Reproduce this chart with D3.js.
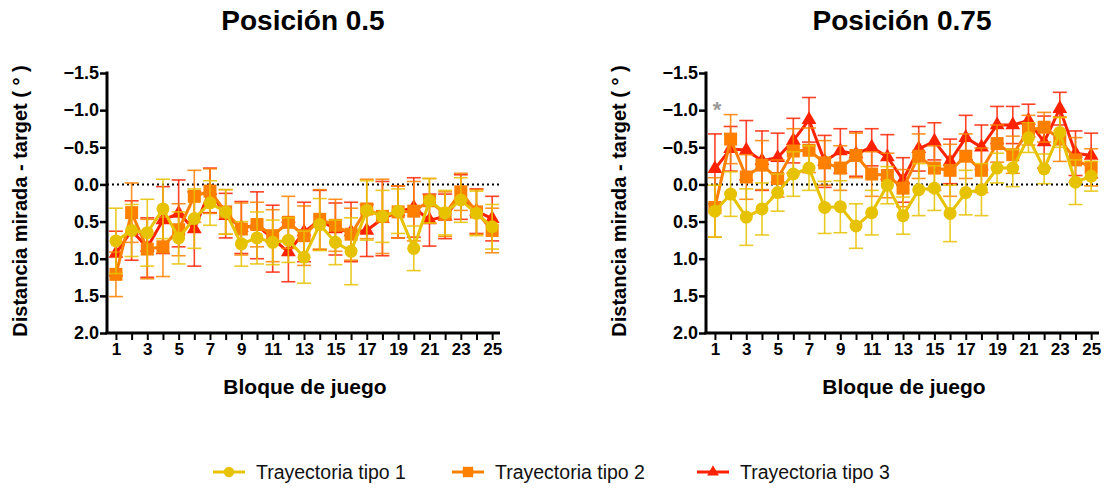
<!DOCTYPE html>
<html>
<head>
<meta charset="utf-8">
<script src="https://cdn.jsdelivr.net/npm/d3@7"></script>
<style>
body { margin: 0; background: #fff; }
text { font-family: "Liberation Sans", Arial, sans-serif; }
</style>
</head>
<body>
<svg width="1105" height="489"></svg>
<script>
// bloques de juego
var bloques = [1,2,3,4,5,6,7,8,9,10,11,12,13,14,15,16,17,18,19,20,21,22,23,24,25];
var xTickLabels = [1,3,5,7,9,11,13,15,17,19,21,23,25];
var yTicks = [-1.5,-1.0,-0.5,0.0,0.5,1.0,1.5,2.0];
var seriesNames = ["Trayectoria tipo 1", "Trayectoria tipo 2", "Trayectoria tipo 3"];
var seriesColors = ["#e6c200", "#ff8000", "#ff2200"];
var seriesShapes = ["circle", "square", "triangle"];

// Posicion 0.5
var p05_t1 = [0.76,0.62,0.65,0.33,0.72,0.46,0.25,0.37,0.80,0.72,0.78,0.75,0.98,0.54,0.78,0.90,0.35,0.43,0.36,0.86,0.22,0.38,0.21,0.39,0.57];
var p05_t1_err = [0.44,0.35,0.45,0.40,0.35,0.40,0.30,0.30,0.30,0.35,0.30,0.30,0.35,0.35,0.30,0.45,0.40,0.35,0.30,0.30,0.30,0.30,0.30,0.30,0.30];
var p05_t2 = [1.21,0.38,0.87,0.84,0.61,0.16,0.09,0.37,0.60,0.54,0.69,0.51,0.69,0.47,0.55,0.67,0.33,0.43,0.37,0.36,0.22,0.40,0.10,0.37,0.62];
var p05_t2_err = [0.30,0.40,0.40,0.40,0.35,0.35,0.30,0.30,0.35,0.30,0.35,0.35,0.40,0.40,0.35,0.35,0.40,0.50,0.35,0.40,0.30,0.30,0.25,0.30,0.30];
var p05_t3 = [0.93,0.62,0.85,0.48,0.39,0.60,0.08,0.42,0.58,0.55,0.73,0.91,0.64,0.48,0.60,0.64,0.62,0.46,0.37,0.31,0.48,0.43,0.17,0.36,0.46];
var p05_t3_err = [0.30,0.40,0.40,0.45,0.45,0.50,0.30,0.30,0.35,0.45,0.45,0.40,0.40,0.40,0.35,0.40,0.35,0.50,0.35,0.40,0.35,0.30,0.30,0.30,0.30];

// Posicion 0.75
var p075_t1 = [0.36,0.13,0.44,0.33,0.11,-0.14,-0.22,0.31,0.30,0.56,0.38,0.01,0.42,0.07,0.05,0.39,0.11,0.07,-0.22,-0.22,-0.63,-0.21,-0.70,-0.03,-0.11];
var p075_t1_err = [0.35,0.30,0.38,0.35,0.25,0.30,0.30,0.35,0.35,0.30,0.30,0.25,0.25,0.35,0.30,0.38,0.30,0.35,0.20,0.25,0.20,0.20,0.20,0.30,0.20];
var p075_t2 = [0.31,-0.61,-0.10,-0.26,-0.08,-0.45,-0.46,-0.29,-0.22,-0.39,-0.14,-0.12,0.05,-0.38,-0.22,-0.19,-0.38,-0.19,-0.55,-0.40,-0.73,-0.77,-0.61,-0.33,-0.23];
var p075_t2_err = [0.40,0.33,0.30,0.33,0.25,0.30,0.30,0.30,0.30,0.30,0.30,0.30,0.25,0.30,0.30,0.35,0.30,0.30,0.25,0.25,0.20,0.20,0.30,0.30,0.25];
var p075_t3 = [-0.21,-0.48,-0.46,-0.32,-0.36,-0.59,-0.87,-0.31,-0.45,-0.41,-0.50,-0.37,-0.06,-0.48,-0.58,-0.31,-0.63,-0.50,-0.80,-0.80,-0.86,-0.57,-1.02,-0.42,-0.39];
var p075_t3_err = [0.47,0.30,0.40,0.40,0.33,0.30,0.30,0.35,0.30,0.30,0.25,0.30,0.30,0.30,0.25,0.30,0.30,0.30,0.25,0.25,0.22,0.35,0.22,0.30,0.30];

var svg = d3.select('svg');

var x = d3.scaleLinear().domain([0.43, 25.5]).range([0, 393]);
var y = d3.scaleLinear().domain([-1.5, 2.0]).range([0, 260]);

function marker(sel, shape, color) {
  if (shape == "circle") {
    sel.append('circle').attr('r', 6.5).attr('fill', color);
  } else if (shape == "square") {
    sel.append('rect').attr('x', -6.5).attr('y', -6.5).attr('width', 13).attr('height', 13).attr('fill', color);
  } else {
    sel.append('path').attr('d', d3.symbol().type(d3.symbolTriangle).size(95)).attr('fill', color);
  }
}

function drawPanel(left, title, vals, errs, star) {
  var g = svg.append('g').attr('transform', 'translate(' + left + ',73)');

  g.append('text')
    .attr('x', 196).attr('y', -43)
    .attr('text-anchor', 'middle')
    .style('font-size', '28px').style('font-weight', 'bold')
    .text(title);

  // linea de cero
  g.append('line')
    .attr('x1', 0).attr('x2', 393)
    .attr('y1', y(0)).attr('y2', y(0))
    .attr('stroke', '#000').attr('stroke-width', 2)
    .attr('stroke-dasharray', '2,3');

  // series: tipo 3 abajo, tipo 1 arriba
  [2, 1, 0].forEach(function(s) {
    var color = seriesColors[s];
    var data = bloques.map(function(b, i) { return {b: b, v: vals[s][i], e: errs[s][i]}; });

    var eb = g.append('g');
    data.forEach(function(d) {
      var cx = x(d.b);
      eb.append('line')
        .attr('x1', cx).attr('x2', cx)
        .attr('y1', y(d.v - d.e)).attr('y2', y(d.v + d.e))
        .attr('stroke', color).attr('stroke-width', 1.6).attr('stroke-opacity', 0.85);
      [d.v - d.e, d.v + d.e].forEach(function(c) {
        eb.append('line')
          .attr('x1', cx - 7).attr('x2', cx + 7)
          .attr('y1', y(c)).attr('y2', y(c))
          .attr('stroke', color).attr('stroke-width', 1.6).attr('stroke-opacity', 0.85);
      });
    });

    g.append('path')
      .datum(data)
      .attr('fill', 'none')
      .attr('stroke', color)
      .attr('stroke-width', 3)
      .attr('d', d3.line().x(function(d) { return x(d.b); }).y(function(d) { return y(d.v); }));

    g.selectAll('.m' + s)
      .data(data)
      .enter()
      .append('g')
      .attr('transform', function(d) { return 'translate(' + x(d.b) + ',' + y(d.v) + ')'; })
      .each(function() { marker(d3.select(this), seriesShapes[s], color); });
  });

  if (star) {
    g.append('text')
      .attr('x', x(1) + 2).attr('y', 44)
      .attr('text-anchor', 'middle')
      .attr('fill', '#999')
      .style('font-size', '22px').style('font-weight', 'bold')
      .text('*');
  }

  // ejes
  var ay = g.append('g')
    .call(d3.axisLeft(y).tickValues(yTicks).tickSize(7).tickFormat(d3.format('.1f')));
  ay.select('.domain').attr('stroke-width', 3).attr('d', 'M0,-1.5V260');
  ay.selectAll('.tick line').attr('stroke-width', 2.5);
  ay.selectAll('text').style('font-size', '18px').style('font-weight', 'bold').attr('x', -8).attr('fill', '#000');

  var ax = g.append('g')
    .attr('transform', 'translate(0,260)')
    .call(d3.axisBottom(x).tickValues(bloques).tickSize(7).tickFormat(function(d) {
      return xTickLabels.indexOf(d) >= 0 ? d : '';
    }));
  ax.select('.domain').attr('stroke-width', 3).attr('d', 'M-1.5,0H393');
  ax.selectAll('.tick line').attr('stroke-width', 2);
  ax.selectAll('text').style('font-size', '17px').style('font-weight', 'bold').attr('y', 10).attr('fill', '#000');

  g.append('text')
    .attr('x', 198).attr('y', 321)
    .attr('text-anchor', 'middle')
    .style('font-size', '21px').style('font-weight', 'bold')
    .text('Bloque de juego');

  g.append('text')
    .attr('transform', 'translate(-80,128) rotate(-90)')
    .attr('text-anchor', 'middle')
    .style('font-size', '20px').style('font-weight', 'bold')
    .text('Distancia mirada - target ( ° )');
}

drawPanel(107, 'Posición 0.5', [p05_t1, p05_t2, p05_t3], [p05_t1_err, p05_t2_err, p05_t3_err], false);
drawPanel(706, 'Posición 0.75', [p075_t1, p075_t2, p075_t3], [p075_t1_err, p075_t2_err, p075_t3_err], true);

// leyenda
var legX = [213, 452, 697];
var leg = svg.append('g').attr('transform', 'translate(0,472)');
seriesNames.forEach(function(n, i) {
  var lg = leg.append('g').attr('transform', 'translate(' + legX[i] + ',0)');
  lg.append('line').attr('x1', 0).attr('x2', 32).attr('stroke', seriesColors[i]).attr('stroke-width', 3);
  var mk = lg.append('g').attr('transform', 'translate(16,0) scale(0.8)');
  marker(mk, seriesShapes[i], seriesColors[i]);
  lg.append('text')
    .attr('x', 43).attr('y', 7)
    .style('font-size', '19.5px')
    .attr('fill', '#111')
    .text(n);
});
</script>
</body>
</html>
